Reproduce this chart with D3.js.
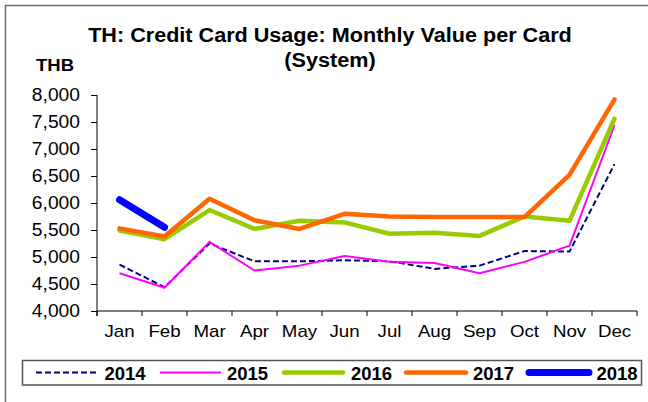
<!DOCTYPE html>
<html>
<head>
<meta charset="utf-8">
<script src="https://cdn.jsdelivr.net/npm/d3@7"></script>
<style>
  html, body { margin: 0; padding: 0; background: #fff; }
  svg { display: block; font-family: "Liberation Sans", Arial, sans-serif; }
</style>
</head>
<body>
<svg id="chart" width="648" height="402"></svg>
<script>
// Monthly credit card spending per card (THB), by year
const months = ["Jan", "Feb", "Mar", "Apr", "May", "Jun", "Jul", "Aug", "Sep", "Oct", "Nov", "Dec"];
const years = ["2014", "2015", "2016", "2017", "2018"];
const v2014 = [4860, 4440, 5250, 4920, 4920, 4940, 4920, 4780, 4840, 5110, 5100, 6720];
const v2015 = [4700, 4430, 5280, 4750, 4840, 5020, 4910, 4890, 4700, 4910, 5210, 7440];
const v2016 = [5490, 5330, 5870, 5520, 5670, 5640, 5430, 5450, 5390, 5750, 5670, 7560];
const v2017 = [5530, 5380, 6080, 5680, 5520, 5800, 5750, 5740, 5740, 5740, 6520, 7920];
const v2018 = [6060, 5550];
const yTicks = [4000, 4500, 5000, 5500, 6000, 6500, 7000, 7500, 8000];
const titleLines = ["TH: Credit Card Usage: Monthly Value per Card", "(System)"];
const unitLabel = "THB";

const seriesValues = [v2014, v2015, v2016, v2017, v2018];
const styles = [
  { color: "#000080", width: 2, dash: "6,3", cap: "butt" },
  { color: "#FF00FF", width: 2, dash: null, cap: "butt" },
  { color: "#99CC00", width: 4.5, dash: null, cap: "round" },
  { color: "#FF6600", width: 4.5, dash: null, cap: "round" },
  { color: "#0000FF", width: 7, dash: null, cap: "round" }
];

const svg = d3.select("#chart");

// widen glyphs slightly, as the original rendering is a bit broad
function stretch(sel, sx) {
  sel.each(function () {
    const w = this.getComputedTextLength();
    d3.select(this).attr("textLength", w * sx).attr("lengthAdjust", "spacingAndGlyphs");
  });
}

// outer frame
svg.append("rect")
  .attr("x", 5.5).attr("y", 5.5)
  .attr("width", 700).attr("height", 500)
  .attr("fill", "none").attr("stroke", "#6e6e6e").attr("stroke-width", 1.5);

const plot = { left: 97, right: 637, top: 95, bottom: 311 };

const x = d3.scaleBand().domain(months).range([plot.left, plot.right]).padding(0);
const y = d3.scaleLinear().domain([4000, 8000]).range([plot.bottom, plot.top]);
const cx = m => x(m) + x.bandwidth() / 2;

// title
const title = svg.append("g");
titleLines.forEach((t, i) => {
  title.append("text")
    .attr("x", 330).attr("y", 41.5 + i * 25)
    .attr("text-anchor", "middle")
    .attr("font-size", 20).attr("font-weight", "bold")
    .text(t);
});
stretch(title.selectAll("text"), 1.08);

stretch(svg.append("text")
  .attr("x", 55).attr("y", 70.5)
  .attr("text-anchor", "middle")
  .attr("font-size", 17).attr("font-weight", "bold")
  .text(unitLabel), 1.09);

// y axis
const yAxis = svg.append("g")
  .attr("transform", `translate(${plot.left},0)`)
  .call(d3.axisLeft(y).tickValues(yTicks).tickSize(6).tickSizeOuter(0).tickPadding(11)
    .tickFormat(d3.format(",")));
yAxis.select(".domain").remove();
yAxis.selectAll("line").attr("stroke", "#000");
yAxis.selectAll("text").attr("font-size", 17.5).attr("fill", "#000")
  .attr("font-family", "Liberation Sans, Arial, sans-serif");
stretch(yAxis.selectAll("text"), 1.1);

svg.append("line")
  .attr("x1", plot.left).attr("x2", plot.left)
  .attr("y1", y(8000)).attr("y2", plot.bottom + 5)
  .attr("stroke", "#000").attr("stroke-width", 1);

// x axis: line, boundary ticks, centred month labels
svg.append("line")
  .attr("x1", plot.left).attr("x2", plot.right)
  .attr("y1", plot.bottom).attr("y2", plot.bottom)
  .attr("stroke", "#000");
const bounds = months.map(m => x(m)).concat([x.range()[1]]);
svg.append("g").selectAll("line").data(bounds).join("line")
  .attr("x1", d => d).attr("x2", d => d)
  .attr("y1", plot.bottom).attr("y2", plot.bottom + 5)
  .attr("stroke", "#000");

const xAxis = svg.append("g")
  .attr("transform", `translate(0,${plot.bottom})`)
  .call(d3.axisBottom(x).tickSize(0).tickPadding(14));
xAxis.select(".domain").remove();
xAxis.selectAll("text").attr("font-size", 17).attr("fill", "#000")
  .attr("font-family", "Liberation Sans, Arial, sans-serif");
stretch(xAxis.selectAll("text"), 1.1);

// series lines
const line = d3.line()
  .x((d, i) => cx(months[i]))
  .y(d => y(d));

seriesValues.forEach((vals, k) => {
  const s = styles[k];
  svg.append("path")
    .datum(vals)
    .attr("d", line)
    .attr("fill", "none")
    .attr("stroke", s.color)
    .attr("stroke-width", s.width)
    .attr("stroke-linejoin", "round")
    .attr("stroke-linecap", s.cap)
    .attr("stroke-dasharray", s.dash);
});

// legend
const legend = svg.append("g");
legend.append("rect")
  .attr("x", 22.5).attr("y", 360.5)
  .attr("width", 619).attr("height", 24.5)
  .attr("fill", "#fff").attr("stroke", "#555").attr("stroke-width", 1.5);

const legendItems = [
  { x1: 36, x2: 98, tx: 104.5 },
  { x1: 160, x2: 221, tx: 227 },
  { x1: 284, x2: 343, tx: 351 },
  { x1: 406, x2: 466, tx: 473 },
  { x1: 529, x2: 589, tx: 596.5 }
];
years.forEach((yr, k) => {
  const s = styles[k];
  const it = legendItems[k];
  legend.append("line")
    .attr("x1", it.x1).attr("x2", it.x2)
    .attr("y1", 372.5).attr("y2", 372.5)
    .attr("stroke", s.color)
    .attr("stroke-width", s.width)
    .attr("stroke-linecap", s.cap)
    .attr("stroke-dasharray", s.dash);
  legend.append("text")
    .attr("x", it.tx).attr("y", 379.5)
    .attr("font-size", 18.5).attr("font-weight", "bold")
    .text(yr);
});
</script>
</body>
</html>
